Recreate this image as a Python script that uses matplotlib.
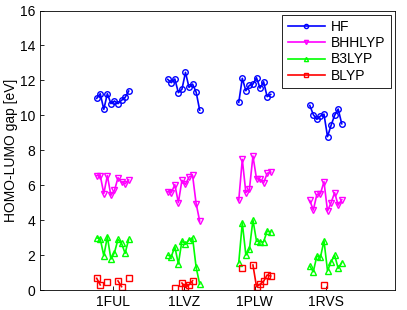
import numpy as np
import matplotlib
matplotlib.use("Agg")
import matplotlib.pyplot as plt

plt.rcParams["font.family"] = ["Liberation Sans", "DejaVu Sans"]

nan = np.nan

proteins = ["1FUL", "1LVZ", "1PLW", "1RVS"]
methods = ["HF", "BHHLYP", "B3LYP", "BLYP"]

# HOMO-LUMO gaps [eV], ten snapshots per protein
hf = [
    [10.97, 11.24, 10.34, 11.24, 10.67, 10.82, 10.67, 10.86, 11.03, 11.39],
    [12.06, 11.87, 12.08, 11.30, 11.49, 12.46, 11.60, 11.79, 11.33, 10.30],
    [10.74, 12.12, 11.41, 11.72, 11.79, 12.15, 11.56, 11.92, 11.07, 11.20],
    [10.57, 10.04, 9.77, 9.96, 10.07, 8.78, 9.43, 10.00, 10.36, 9.52],
]
bhhlyp = [
    [6.55, 6.55, 5.52, 6.55, 5.42, 5.70, 6.43, 6.18, 6.08, 6.30],
    [5.63, 5.57, 6.03, 5.00, 6.28, 6.05, 6.47, 6.56, 4.94, 3.95],
    [5.13, 7.48, 5.57, 5.76, 7.67, 6.37, 6.33, 6.12, 6.68, 6.75],
    [5.13, 4.58, 5.47, 5.51, 6.20, 4.52, 5.00, 5.57, 4.86, 5.17],
]
b3lyp = [
    [2.99, 2.92, 1.96, 3.05, 1.77, 2.14, 2.90, 2.67, 2.10, 2.90],
    [2.00, 1.91, 2.48, 1.49, 2.82, 2.63, 2.86, 2.99, 1.30, 0.34],
    [1.56, 3.85, 2.00, 2.33, 4.01, 2.80, 2.76, 2.76, 3.38, 3.32],
    [1.37, 1.05, 1.95, 1.87, 2.82, 1.10, 1.62, 2.00, 1.24, 1.56],
]
blyp = [
    [0.67, 0.29, nan, 0.44, nan, nan, 0.52, 0.19, nan, 0.71],
    [nan, nan, 0.12, nan, 0.40, 0.15, 0.30, 0.53, nan, nan],
    [nan, 1.28, nan, nan, 1.43, 0.19, 0.33, 0.50, 0.86, 0.80],
    [nan, nan, nan, nan, 0.29, nan, nan, nan, nan, nan],
]

series = [hf, bhhlyp, b3lyp, blyp]
colors = ["#0000ff", "#ff00ff", "#00ff00", "#ff0000"]
markers = ["o", "v", "^", "s"]

group_step = 20
n_snap = 10


def main() -> None:
    fig = plt.figure(figsize=(4.07, 3.10), dpi=100)
    ax = fig.add_axes([0.098, 0.0645, 0.8725, 0.9015])

    for name, data, color, marker in zip(methods, series, colors, markers):
        for g, values in enumerate(data):
            x = group_step * g + np.arange(1, n_snap + 1)
            ax.plot(
                x,
                values,
                color=color,
                marker=marker,
                markersize=4,
                markerfacecolor="none",
                markeredgewidth=1.0,
                linewidth=1.2,
                label=name if g == 0 else None,
            )

    ax.set_xlim(-15, 85)
    ax.set_ylim(0, 16)
    ax.set_yticks(range(0, 17, 2))
    ax.set_xticks([group_step * g + (n_snap + 1) / 2 for g in range(len(proteins))])
    ax.set_xticklabels(proteins)
    ax.tick_params(direction="in", labelsize=10, length=3, width=0.6, top=False, right=False)
    for spine in ax.spines.values():
        spine.set_linewidth(0.6)
    ax.set_ylabel("HOMO-LUMO gap [eV]", fontsize=10, labelpad=1)

    leg = ax.legend(
        loc="upper right",
        fontsize=10,
        handlelength=2.7,
        handletextpad=0.4,
        labelspacing=0.15,
        borderpad=0.4,
        borderaxespad=0.3,
        markerscale=0.75,
        fancybox=False,
        framealpha=1,
    )
    leg.get_frame().set_edgecolor("black")
    leg.get_frame().set_linewidth(0.6)

    fig.savefig("out.png", dpi=100)
    plt.close(fig)


if __name__ == "__main__":
    main()
